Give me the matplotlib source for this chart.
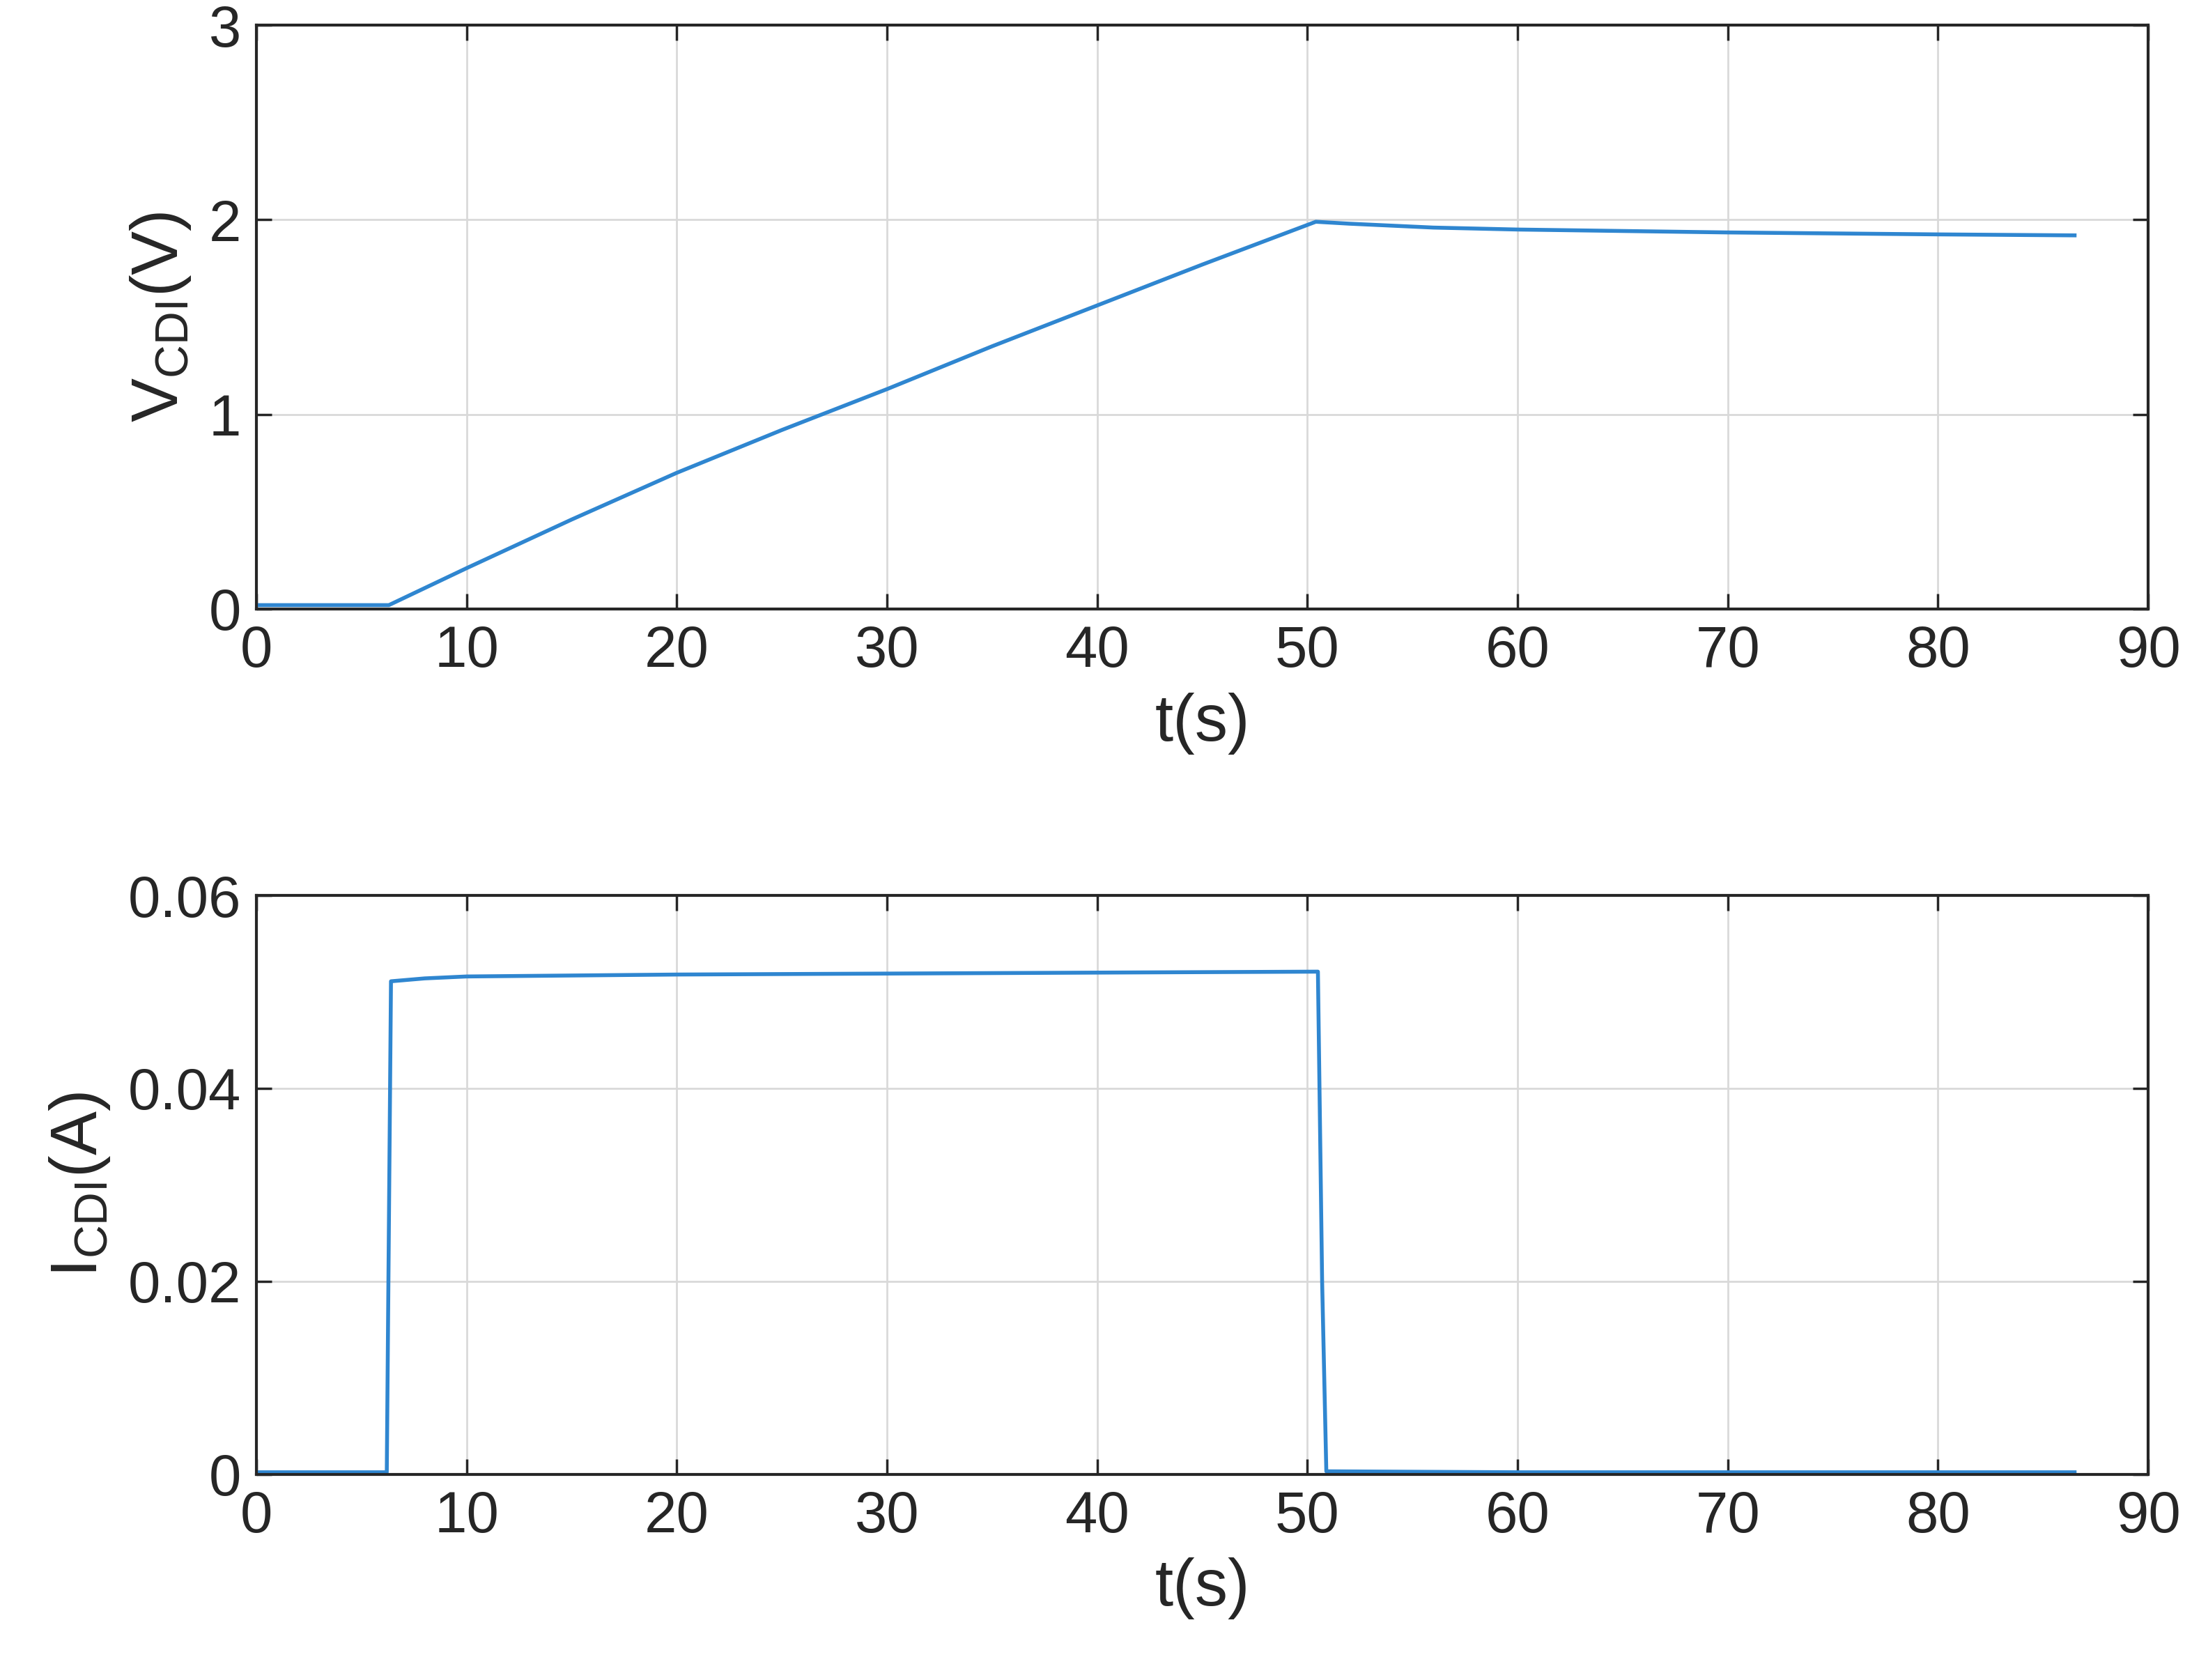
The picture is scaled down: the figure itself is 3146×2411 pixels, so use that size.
import matplotlib
matplotlib.use("Agg")
import matplotlib.pyplot as plt

plt.rcParams['font.family'] = ['Liberation Sans', 'DejaVu Sans']
plt.rcParams['mathtext.fontset'] = 'custom'
plt.rcParams['mathtext.rm'] = 'Liberation Sans'

t_v = [0, 6.3, 10, 15, 20, 25, 30, 35, 40, 45, 50.4, 52, 56, 60, 70, 80, 86.5]
v = [0.02, 0.02, 0.21, 0.46, 0.70, 0.92, 1.13, 1.35, 1.56, 1.77, 1.99, 1.98, 1.96, 1.95, 1.935, 1.925, 1.92]
t_i = [0, 6.2, 6.4, 8, 10, 20, 30, 40, 50.5, 50.7, 50.9, 60, 86.5]
i = [0.0002, 0.0002, 0.0511, 0.0514, 0.0516, 0.0518, 0.0519, 0.052, 0.0521, 0.02, 0.0003, 0.0002, 0.0002]
xticks = [0, 10, 20, 30, 40, 50, 60, 70, 80, 90]

fig = plt.figure(figsize=(31.46, 24.11), dpi=100)
col = "#2f86d0"
fs = 60
specs = [
    ([0.117, 0.6375, 0.863, 0.3475], t_v, v, [0, 1, 2, 3], ["0", "1", "2", "3"], (0, 3), r"V$_{\mathrm{CDI}}$(V)"),
    ([0.117, 0.1225, 0.863, 0.3445], t_i, i, [0, 0.02, 0.04, 0.06], ["0", "0.02", "0.04", "0.06"], (0, 0.06), r"I$_{\mathrm{CDI}}$(A)"),
]
for rect, x, y, yt, ytl, yl, lab in specs:
    ax = fig.add_axes(rect)
    ax.plot(x, y, color=col, lw=4)
    ax.set_xlim(0, 90)
    ax.set_ylim(*yl)
    ax.set_xticks(xticks)
    ax.set_yticks(yt)
    ax.set_yticklabels(ytl)
    ax.grid(True, color="#d9d9d9", lw=2)
    ax.tick_params(direction="in", length=16, width=2.5, top=True, right=True,
                   labelsize=fs, colors="#262626", pad=16)
    for s in ax.spines.values():
        s.set_color("#262626")
        s.set_linewidth(3)
    ax.set_xlabel("t(s)", fontsize=68, color="#262626", labelpad=14)
    ax.set_ylabel(lab, fontsize=68, color="#262626", labelpad=16)

fig.savefig("out.png", dpi=100, facecolor="white")
